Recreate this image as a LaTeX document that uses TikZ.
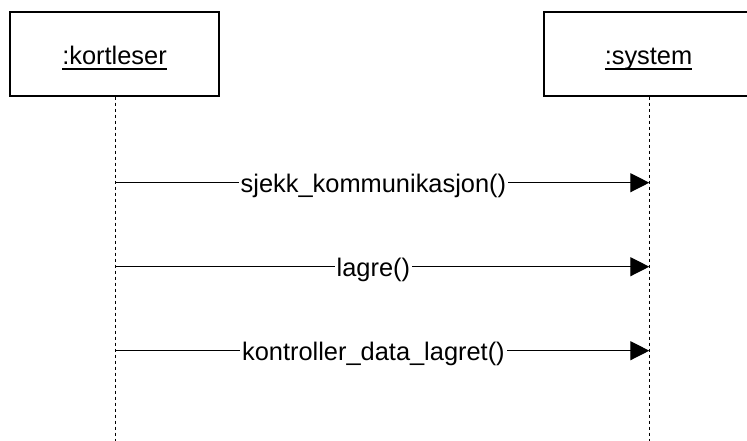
\documentclass[tikz,border=0pt]{standalone}
\usepackage{fontspec}
\setmainfont{Liberation Sans}
\usetikzlibrary{arrows.meta}
\newcommand\myul[1]{\setbox0\hbox{#1}\rlap{\rule[-5.4pt]{\wd0}{1.3pt}}\box0}
\begin{document}
\begin{tikzpicture}[x=1pt,y=-1pt,
  objbox/.style={draw, line width=1.4pt, minimum width=209pt, minimum height=84pt, inner sep=0pt},
  objname/.style={anchor=base, inner sep=0pt, font=\fontsize{25.4}{30}\selectfont},
  life/.style={line width=1.4pt, dash pattern=on 3.7pt off 2.3pt},
  msg/.style={line width=1.3pt, -{Triangle[length=19pt,width=19pt]}},
  lbl/.style={fill=white, anchor=base, inner xsep=2pt, inner ysep=0pt, yshift=-10pt, font=\fontsize{25.4}{30}\selectfont}]
\useasboundingbox (0,0) rectangle (747,441);
% objects
\node[objbox] (k) at (114.5,54) {};
\node[objbox] (s) at (648.5,54) {};
\node[objname] (kt) at (114.5,64.3) {\myul{:kortleser}};
\node[objname] (st) at (648.5,64.3) {\myul{:system}};
% lifelines
\coordinate (kb) at (115.7,441);
\coordinate (sb) at (649.3,441);
\draw[life] (k.south -| kb) -- (kb);
\draw[life] (s.south -| sb) -- (sb);
% message points
\coordinate (k1) at (115.7,182.7);
\coordinate (s1) at (649.3,182.7);
\coordinate (k2) at (115.7,266.7);
\coordinate (s2) at (649.3,266.7);
\coordinate (k3) at (115.7,350.7);
\coordinate (s3) at (649.3,350.7);
\draw[msg] (k1) -- (s1) node[lbl, pos=0.483] (m1) {sjekk\_kommunikasjon()};
\draw[msg] (k2) -- (s2) node[lbl, pos=0.483] (m2) {lagre()};
\draw[msg] (k3) -- (s3) node[lbl, pos=0.483] (m3) {kontroller\_data\_lagret()};
\end{tikzpicture}
\end{document}
